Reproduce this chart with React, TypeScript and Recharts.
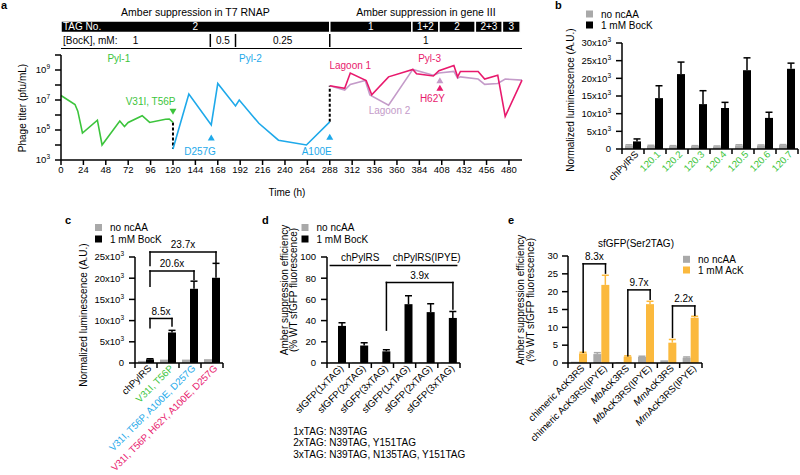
import React from 'react';
import {
  ComposedChart, BarChart, Bar, Line, Scatter, XAxis, YAxis,
  ReferenceArea, ReferenceLine,
} from 'recharts';

const FONT = '"Liberation Sans", Arial, Helvetica, sans-serif';
const COLORS: Record<string, string> = {
  wt: '#000000', pyl1: '#3cc43c', pyl2: '#1ea9ea', pyl3: '#e8196d', lag2: '#c49bc9',
};
const GREY = '#a9a9a9';
const YELLOW = '#fbb93d';
const AX = { stroke: '#000', strokeWidth: 1.5 };

// ---------------- Panel a ----------------
const timeTicks = [0, 24, 48, 72, 96, 120, 144, 168, 192, 216, 240, 264, 288, 312, 336, 360, 384, 408, 432, 456, 480];
const titerTicks = [1e3, 1e4, 1e5, 1e6, 1e7, 1e8, 1e9, 1e10];
const pyl1 = [
  { t: 0, v: 2.0e7 }, { t: 15, v: 5.0e6 }, { t: 18, v: 1.8e6 }, { t: 23, v: 6.3e4 }, { t: 39, v: 4.5e5 },
  { t: 44, v: 1.0e4 }, { t: 63, v: 4.0e5 }, { t: 68, v: 1.7e5 }, { t: 72, v: 3.2e5 }, { t: 87, v: 9.0e5 },
  { t: 95, v: 3.2e5 }, { t: 112, v: 5.2e5 }, { t: 116, v: 5.4e5 }, { t: 120, v: 3.2e5 },
];
const pyl2 = [
  { t: 120, v: 5.4e3 }, { t: 137, v: 2.5e7 }, { t: 161, v: 2.2e5 }, { t: 168, v: 1.26e8 }, { t: 187, v: 4.0e6 },
  { t: 191, v: 1.0e7 }, { t: 212, v: 2.8e5 }, { t: 233, v: 2.1e4 }, { t: 263, v: 1.0e4 }, { t: 288, v: 3.5e5 },
];
const lagoon1 = [
  { t: 288, v: 9.0e7 }, { t: 304, v: 6.0e7 }, { t: 310, v: 6.3e8 }, { t: 327, v: 2.0e8 }, { t: 333, v: 2.2e7 },
  { t: 351, v: 3.5e8 }, { t: 377, v: 1.1e9 }, { t: 381, v: 5.6e8 }, { t: 399, v: 4.0e8 }, { t: 405, v: 9.0e8 },
  { t: 421, v: 2.0e9 }, { t: 425, v: 3.5e8 }, { t: 428, v: 8.0e8 }, { t: 447, v: 8.0e8 }, { t: 454, v: 2.5e8 },
  { t: 468, v: 4.5e8 }, { t: 476, v: 8.0e5 }, { t: 494, v: 2.1e8 },
];
const lagoon2 = [
  { t: 288, v: 9.0e7 }, { t: 304, v: 4.5e7 }, { t: 310, v: 1.1e8 }, { t: 326, v: 2.0e8 }, { t: 331, v: 2.2e7 },
  { t: 351, v: 4.5e6 }, { t: 377, v: 1.1e9 }, { t: 399, v: 4.5e8 }, { t: 405, v: 6.3e8 }, { t: 421, v: 8.0e8 },
  { t: 425, v: 2.8e8 }, { t: 428, v: 3.5e8 }, { t: 447, v: 2.5e8 }, { t: 454, v: 1.1e8 }, { t: 468, v: 1.26e8 },
  { t: 476, v: 2.5e8 }, { t: 494, v: 2.1e8 },
];
const transfer120 = [{ t: 120, v: 3.2e5 }, { t: 120, v: 5.4e3 }];
const transfer288 = [{ t: 288, v: 3.5e5 }, { t: 288, v: 9.0e7 }];
const aTexts = [
  { t: 62, v: 6.3e9, s: 'pyl1', text: 'Pyl-1' },
  { t: 203, v: 6.3e9, s: 'pyl2', text: 'Pyl-2' },
  { t: 395, v: 6.3e9, s: 'pyl3', text: 'Pyl-3' },
  { t: 310, v: 2.1e9, s: 'pyl3', text: 'Lagoon 1' },
  { t: 352, v: 1.9e6, s: 'lag2', text: 'Lagoon 2' },
  { t: 96, v: 7.4e6, s: 'pyl1', text: 'V31I, T56P' },
  { t: 149, v: 3.5e3, s: 'pyl2', text: 'D257G' },
  { t: 274, v: 3.5e3, s: 'pyl2', text: 'A100E' },
  { t: 398, v: 1.3e7, s: 'pyl3', text: 'H62Y' },
];
const aMarkers = [
  { t: 120, v: 1.66e6, s: 'pyl1', dir: 'down' },
  { t: 161, v: 3.2e4, s: 'pyl2', dir: 'up' },
  { t: 288, v: 3.5e4, s: 'pyl2', dir: 'up' },
  { t: 406, v: 2.1e8, s: 'lag2', dir: 'up' },
  { t: 406, v: 6.6e7, s: 'pyl3', dir: 'up' },
];
const titleSegments = [
  { start: 0, end: 288, label: 'Amber suppression in T7 RNAP' },
  { start: 288, end: 494, label: 'Amber suppression in gene III' },
];
const tagSegments = [
  { start: 0, end: 288, label: '2' }, { start: 288, end: 376, label: '1' }, { start: 376, end: 405, label: '1+2' },
  { start: 405, end: 444, label: '2' }, { start: 444, end: 473, label: '2+3' }, { start: 473, end: 492, label: '3' },
];
const bockSegments = [
  { start: 0, end: 160, label: '1' }, { start: 160, end: 187, label: '0.5' },
  { start: 187, end: 288, label: '0.25' }, { start: 288, end: 494, label: '1' },
];
const bockBreaks = [160, 187, 288];
const headerDomain = [{ t: 0, y: 0 }, { t: 494, y: 0 }];

// ---------------- Panel b ----------------
const bCats = ['chPylRS', '120.1', '120.2', '120.3', '120.4', '120.5', '120.6', '120.7'];
const bLineage = ['wt', 'pyl1', 'pyl1', 'pyl1', 'pyl1', 'pyl1', 'pyl1', 'pyl1'];
const bNoNcaa = [1000, 900, 800, 800, 700, 1000, 1000, 1100];
const bNoNcaaErr = [200, 150, 150, 150, 150, 200, 150, 150];
const bBocK = [2150, 14400, 21200, 12700, 11600, 22300, 8800, 22700];
const bBocKErr = [700, 3500, 3400, 3800, 1600, 3500, 1600, 1600];
const bTicks = [0, 5000, 10000, 15000, 20000, 25000, 30000];

// ---------------- Panel c ----------------
const cCats = ['chPylRS', 'V31I, T56P', 'V31I, T56P, A100E, D257G', 'V31I, T56P, H62Y, A100E, D257G'];
const cLineage = ['wt', 'pyl1', 'pyl2', 'pyl3'];
const cNoNcaa = [500, 800, 800, 900];
const cNoNcaaErr = [100, 100, 100, 100];
const cBocK = [850, 7200, 17500, 20100];
const cBocKErr = [150, 500, 1800, 3400];
const cTicks = [0, 5000, 10000, 15000, 20000, 25000];
const cBrackets = [
  { from: 'chPylRS', to: 'V31I, T56P', label: '8.5x', top: 10500, left: 8300, right: 8700 },
  { from: 'chPylRS', to: 'V31I, T56P, A100E, D257G', label: '20.6x', top: 21700, left: 18100, right: 19700 },
  { from: 'chPylRS', to: 'V31I, T56P, H62Y, A100E, D257G', label: '23.7x', top: 26200, left: 23000, right: 23600 },
];

// ---------------- Panel d ----------------
const dCats = ['a1', 'a2', 'a3', 'b1', 'b2', 'b3'];
const dLabels = ['sfGFP(1xTAG)', 'sfGFP(2xTAG)', 'sfGFP(3xTAG)', 'sfGFP(1xTAG)', 'sfGFP(2xTAG)', 'sfGFP(3xTAG)'];
const dNoNcaa = [0.6, 0.5, 0.5, 0.6, 0.5, 0.5];
const dNoNcaaErr = [0.1, 0.1, 0.1, 0.1, 0.1, 0.1];
const dBocK = [35, 16.5, 11, 55.5, 48, 42.5];
const dBocKErr = [3, 2.5, 1.5, 8, 8, 6];
const dTicks = [0, 20, 40, 60, 80, 100];
const dGroups = [
  { from: 'a1', to: 'a3', label: 'chPylRS', y: 92 },
  { from: 'b1', to: 'b3', label: 'chPylRS(IPYE)', y: 92 },
];
const dBrackets = [{ from: 'a3', to: 'b3', label: '3.9x', top: 76, left: 31, right: 51 }];
const dNotes = ['1xTAG: N39TAG', '2xTAG: N39TAG, Y151TAG', '3xTAG: N39TAG, N135TAG, Y151TAG'];

// ---------------- Panel e ----------------
const eCats = ['chimeric AcK3RS', 'chimeric AcK3RS(IPYE)', 'MbAcK3RS', 'MbAcK3RS(IPYE)', 'MmAcK3RS', 'MmAcK3RS(IPYE)'];
const eNoNcaa = [0.35, 2.5, 0.25, 1.7, 0.75, 1.5];
const eNoNcaaErr = [0.1, 0.4, 0.1, 0.2, 0.1, 0.2];
const eAcK = [2.7, 21.9, 1.8, 16.5, 5.7, 12.7];
const eAcKErr = [0.3, 2.7, 0.2, 0.8, 0.9, 0.4];
const eTicks = [0, 5, 10, 15, 20, 25, 30];
const eBrackets = [
  { from: 'chimeric AcK3RS', to: 'chimeric AcK3RS(IPYE)', label: '8.3x', top: 27.8, left: 3.0, right: 25.2 },
  { from: 'MbAcK3RS', to: 'MbAcK3RS(IPYE)', label: '9.7x', top: 20.5, left: 2.0, right: 17.9 },
  { from: 'MmAcK3RS', to: 'MmAcK3RS(IPYE)', label: '2.2x', top: 16, left: 7.2, right: 13.4 },
];

// ---------------- helpers ----------------
const BAR = 8;

const centerText = (text: string, color: string, size: number) => (p: any) => {
  const vb = p.viewBox || p;
  return (
    <text x={vb.x + vb.width / 2} y={vb.y + vb.height / 2} dy="0.35em" textAnchor="middle" fontSize={size} fill={color}>
      {text}
    </text>
  );
};
const leftText = (text: string, color: string, size: number) => (p: any) => {
  const vb = p.viewBox || p;
  return (
    <text x={vb.x + 2} y={vb.y + vb.height / 2} dy="0.35em" textAnchor="start" fontSize={size} fill={color}>
      {text}
    </text>
  );
};

const LogTick = (p: any) => {
  const e = Math.round(Math.log10(p.payload.value));
  if (e % 2 === 0) return <g />;
  return (
    <text x={p.x} y={p.y} dy="0.35em" textAnchor="end" fontSize={9.5} fill="#000">
      10<tspan dy={-4} fontSize={6.5}>{e}</tspan>
    </text>
  );
};
const TimeTick = (p: any) => (
  <text x={p.x} y={p.y} dy={6} textAnchor="middle" fontSize={9.5} fill="#000">{p.payload.value}</text>
);

const makeYTick = (sci: boolean) => (p: any) => {
  const v = p.payload.value;
  if (!sci || v === 0) {
    return <text x={p.x} y={p.y} dy="0.35em" textAnchor="end" fontSize={9.5} fill="#000">{v}</text>;
  }
  return (
    <text x={p.x} y={p.y} dy="0.35em" textAnchor="end" fontSize={9.5} fill="#000">
      {`${v / 1000}x10`}<tspan dy={-4} fontSize={6.5}>3</tspan>
    </text>
  );
};

const renderLabelText = (label: string) => {
  if (/^M[bm]/.test(label)) {
    return [<tspan key="i" fontStyle="italic">{label.slice(0, 2)}</tspan>, <tspan key="r">{label.slice(2)}</tspan>];
  }
  return label;
};

const makeCatTick = (keys: string[], labels: string[], colors: string[], half: number) => (p: any) => {
  const i = keys.indexOf(p.payload.value);
  const x = p.x;
  const axisY = p.y - 5;
  const h = typeof p.payload?.offset === 'number' && p.payload.offset > 0 ? p.payload.offset : half;
  return (
    <g>
      <line x1={x - h} x2={x - h} y1={axisY} y2={axisY + 5} stroke="#000" strokeWidth={1.5} />
      {i === keys.length - 1 && <line x1={x + h} x2={x + h} y1={axisY} y2={axisY + 5} stroke="#000" strokeWidth={1.5} />}
      <text transform={`translate(${x + 6},${axisY + 6}) rotate(-45)`} textAnchor="end" fontSize={9.7} fill={colors[i]}>
        {renderLabelText(labels[i])}
      </text>
    </g>
  );
};

// bar with an upward error whisker, scaled from the bar's own pixel height
const barWithErr = (valKey: string, errKey: string, color: string) => (p: any) => {
  const { x, y, width, height } = p;
  const row = p.payload || p;
  const val = row[valKey];
  const err = row[errKey];
  const cx = x + width / 2;
  const errPx = val > 0 && height > 0 ? (height * err) / val : 0;
  return (
    <g>
      <rect x={x} y={y} width={width} height={Math.max(0, height)} fill={color} />
      {errPx > 0.5 && (
        <g>
          <line x1={cx} x2={cx} y1={y} y2={y - errPx} stroke={color} strokeWidth={1.5} />
          <line x1={cx - 3.5} x2={cx + 3.5} y1={y - errPx} y2={y - errPx} stroke={color} strokeWidth={1.5} />
        </g>
      )}
    </g>
  );
};

const segShape = (dx: number) => (p: any) => (
  <line x1={p.x1 + dx} y1={p.y1} x2={p.x2 + dx} y2={p.y2} stroke="#000" strokeWidth={1.5} strokeLinecap="square" />
);
const bracketLabel = (text: string, dx: number) => (p: any) => {
  const vb = p.viewBox || p;
  return (
    <text x={vb.x + vb.width / 2 + dx} y={vb.y - 3.5} textAnchor="middle" fontSize={10} fill="#000">{text}</text>
  );
};

function renderBrackets(list: any[], dx: number, prefix: string) {
  const out: any[] = [];
  list.forEach((b, i) => {
    out.push(
      <ReferenceLine key={`${prefix}h${i}`} ifOverflow="visible"
        segment={[{ x: b.from, y: b.top }, { x: b.to, y: b.top }]}
        shape={segShape(dx)} label={bracketLabel(b.label, dx)} />,
      <ReferenceLine key={`${prefix}l${i}`} ifOverflow="visible"
        segment={[{ x: b.from, y: b.left }, { x: b.from, y: b.top }]} shape={segShape(dx)} />,
      <ReferenceLine key={`${prefix}r${i}`} ifOverflow="visible"
        segment={[{ x: b.to, y: b.right }, { x: b.to, y: b.top }]} shape={segShape(dx)} />,
    );
  });
  return out;
}

const TextShape = (p: any) => (
  <text x={p.cx} y={p.cy} dy="0.35em" textAnchor="middle" fontSize={10} fill={COLORS[p.payload.s]}>{p.payload.text}</text>
);
const TriShape = (p: any) => {
  const { cx, cy } = p;
  const up = p.payload.dir === 'up';
  const pts = up
    ? `${cx},${cy - 3} ${cx - 3.5},${cy + 3} ${cx + 3.5},${cy + 3}`
    : `${cx},${cy + 3} ${cx - 3.5},${cy - 3} ${cx + 3.5},${cy - 3}`;
  return <polygon points={pts} fill={COLORS[p.payload.s]} />;
};

// ---------------- panels ----------------
function PanelAHeader() {
  return (
    <ComposedChart width={540} height={50} data={headerDomain} margin={{ top: 3, right: 18, bottom: 1.5, left: 61 }}>
      <XAxis type="number" dataKey="t" domain={[0, 494]} hide />
      <YAxis type="number" domain={[0, 3]} hide />
      <Line dataKey="y" stroke="none" dot={false} isAnimationActive={false} />
      {titleSegments.map((s, i) => (
        <ReferenceArea key={`ti${i}`} x1={s.start} x2={s.end} y1={2.1} y2={2.72} fill="none" stroke="none"
          ifOverflow="visible" label={centerText(s.label, '#000', 10.5)} />
      ))}
      {tagSegments.map((s, i) => (
        <ReferenceArea key={`tg${i}`} x1={s.start} x2={s.end} y1={1.05} y2={1.81} fill="#000" fillOpacity={1}
          stroke="#fff" strokeWidth={1.5} ifOverflow="visible" label={centerText(s.label, '#fff', 10)} />
      ))}
      <ReferenceArea x1={0} x2={100} y1={1.05} y2={1.81} fill="none" stroke="none" ifOverflow="visible"
        label={leftText('TAG No.', '#fff', 10)} />
      {bockSegments.map((s, i) => (
        <ReferenceArea key={`bk${i}`} x1={s.start} x2={s.end} y1={0.1} y2={0.96} fill="none" stroke="none"
          ifOverflow="visible" label={centerText(s.label, '#000', 10)} />
      ))}
      <ReferenceArea x1={0} x2={60} y1={0.1} y2={0.96} fill="none" stroke="none" ifOverflow="visible"
        label={leftText('[BocK], mM:', '#000', 10)} />
      {bockBreaks.map((b, i) => (
        <ReferenceLine key={`br${i}`} ifOverflow="visible" segment={[{ x: b, y: 0.1 }, { x: b, y: 0.96 }]}
          stroke="#000" strokeWidth={1.5} />
      ))}
      <ReferenceLine y={0} stroke="#000" strokeWidth={1.2} ifOverflow="visible" />
    </ComposedChart>
  );
}

function PanelA() {
  return (
    <ComposedChart width={540} height={200} margin={{ top: 55, right: 18, bottom: 10, left: 11 }}>
      <XAxis type="number" dataKey="t" domain={[0, 494]} ticks={timeTicks} interval={0} height={30}
        tickSize={5} tickMargin={2} axisLine={AX} tickLine={AX} tick={TimeTick} />
      <YAxis type="number" scale="log" domain={[1e3, 1e10]} ticks={titerTicks} interval={0} width={50}
        tickSize={6} tickMargin={5} axisLine={AX} tickLine={AX} tick={LogTick} />
      <Line data={transfer120} dataKey="v" stroke="#000" strokeWidth={2} strokeDasharray="3 2" dot={false} isAnimationActive={false} />
      <Line data={transfer288} dataKey="v" stroke="#000" strokeWidth={2} strokeDasharray="3 2" dot={false} isAnimationActive={false} />
      <Line data={pyl1} dataKey="v" stroke={COLORS.pyl1} strokeWidth={1.6} dot={false} isAnimationActive={false} />
      <Line data={pyl2} dataKey="v" stroke={COLORS.pyl2} strokeWidth={1.6} dot={false} isAnimationActive={false} />
      <Line data={lagoon2} dataKey="v" stroke={COLORS.lag2} strokeWidth={1.6} dot={false} isAnimationActive={false} />
      <Line data={lagoon1} dataKey="v" stroke={COLORS.pyl3} strokeWidth={1.6} dot={false} isAnimationActive={false} />
      <Scatter data={aMarkers} dataKey="v" shape={TriShape} isAnimationActive={false} />
      <Scatter data={aTexts} dataKey="v" shape={TextShape} isAnimationActive={false} />
    </ComposedChart>
  );
}

function makeRows(cats: string[], off: number[], offErr: number[], on: number[], onErr: number[]) {
  return cats.map((c, i) => ({ cat: c, off: off[i], offErr: offErr[i], on: on[i], onErr: onErr[i] }));
}

function PanelB() {
  const data = makeRows(bCats, bNoNcaa, bNoNcaaErr, bBocK, bBocKErr);
  return (
    <BarChart width={290} height={200} data={data} margin={{ top: 43, right: 2, bottom: 1, left: 52 }} barGap={0} barSize={BAR}>
      <XAxis dataKey="cat" type="category" interval={0} height={50} tickLine={false} axisLine={AX}
        tickSize={5} tickMargin={0} tick={makeCatTick(bCats, bCats, bLineage.map((l) => COLORS[l]), 11)} />
      <YAxis type="number" domain={[0, 30000]} ticks={bTicks} interval={0} width={60} tickSize={6} tickMargin={5}
        axisLine={AX} tickLine={AX} tick={makeYTick(true)} allowDataOverflow />
      <Bar dataKey="off" fill={GREY} barSize={BAR} isAnimationActive={false} shape={barWithErr('off', 'offErr', GREY)} />
      <Bar dataKey="on" fill="#000" barSize={BAR} isAnimationActive={false} shape={barWithErr('on', 'onErr', '#000')} />
    </BarChart>
  );
}

function PanelC() {
  const data = makeRows(cCats, cNoNcaa, cNoNcaaErr, cBocK, cBocKErr);
  return (
    <BarChart width={270} height={275} data={data} margin={{ top: 57, right: 47, bottom: 2, left: 75 }} barGap={0} barSize={BAR}>
      <XAxis dataKey="cat" type="category" interval={0} height={110} tickLine={false} axisLine={AX}
        tickSize={5} tickMargin={0} tick={makeCatTick(cCats, cCats, cLineage.map((l) => COLORS[l]), 11)} />
      <YAxis type="number" domain={[0, 25000]} ticks={cTicks} interval={0} width={60} tickSize={6} tickMargin={5}
        axisLine={AX} tickLine={AX} tick={makeYTick(true)} allowDataOverflow />
      <Bar dataKey="off" fill={GREY} barSize={BAR} isAnimationActive={false} shape={barWithErr('off', 'offErr', GREY)} />
      <Bar dataKey="on" fill="#000" barSize={BAR} isAnimationActive={false} shape={barWithErr('on', 'onErr', '#000')} />
      {renderBrackets(cBrackets, BAR / 2, 'c')}
    </BarChart>
  );
}

const groupShape = (ext: number) => (p: any) => (
  <line x1={p.x1 - ext} y1={p.y1} x2={p.x2 + ext} y2={p.y2} stroke="#000" strokeWidth={1.5} />
);
const groupLabel = (text: string) => (p: any) => {
  const vb = p.viewBox || p;
  return <text x={vb.x + vb.width / 2} y={vb.y - 4.5} textAnchor="middle" fontSize={10} fill="#000">{text}</text>;
};

function PanelD() {
  const data = makeRows(dCats, dNoNcaa, dNoNcaaErr, dBocK, dBocKErr);
  return (
    <BarChart width={270} height={275} data={data} margin={{ top: 57, right: 70, bottom: 2, left: 7 }} barGap={0} barSize={BAR}>
      <XAxis dataKey="cat" type="category" interval={0} height={110} tickLine={false} axisLine={AX}
        tickSize={5} tickMargin={0} tick={makeCatTick(dCats, dLabels, dCats.map(() => '#000'), 11.1)} />
      <YAxis type="number" domain={[0, 100]} ticks={dTicks} interval={0} width={60} tickSize={6} tickMargin={5}
        axisLine={AX} tickLine={AX} tick={makeYTick(false)} allowDataOverflow />
      <Bar dataKey="off" fill={GREY} barSize={BAR} isAnimationActive={false} shape={barWithErr('off', 'offErr', GREY)} />
      <Bar dataKey="on" fill="#000" barSize={BAR} isAnimationActive={false} shape={barWithErr('on', 'onErr', '#000')} />
      {dGroups.map((g, i) => (
        <ReferenceLine key={`g${i}`} ifOverflow="visible" segment={[{ x: g.from, y: g.y }, { x: g.to, y: g.y }]}
          shape={groupShape(8.5)} label={groupLabel(g.label)} />
      ))}
      {renderBrackets(dBrackets, BAR / 2, 'd')}
    </BarChart>
  );
}

function PanelE() {
  const data = makeRows(eCats, eNoNcaa, eNoNcaaErr, eAcK, eAcKErr);
  return (
    <BarChart width={295} height={275} data={data} margin={{ top: 56, right: 98, bottom: 2, left: 33 }} barGap={0} barSize={BAR}>
      <XAxis dataKey="cat" type="category" interval={0} height={110} tickLine={false} axisLine={AX}
        tickSize={5} tickMargin={0} tick={makeCatTick(eCats, eCats, eCats.map(() => '#000'), 11.1)} />
      <YAxis type="number" domain={[0, 30]} ticks={eTicks} interval={0} width={30} tickSize={6} tickMargin={4}
        axisLine={AX} tickLine={AX} tick={makeYTick(false)} allowDataOverflow />
      <Bar dataKey="off" fill={GREY} barSize={BAR} isAnimationActive={false} shape={barWithErr('off', 'offErr', GREY)} />
      <Bar dataKey="on" fill={YELLOW} barSize={BAR} isAnimationActive={false} shape={barWithErr('on', 'onErr', YELLOW)} />
      {renderBrackets(eBrackets, BAR / 2, 'e')}
    </BarChart>
  );
}

function VText({ x, y, text, size = 10 }: { x: number; y: number; text: string; size?: number }) {
  return (
    <text transform={`translate(${x},${y}) rotate(-90)`} textAnchor="middle" dominantBaseline="central" fontSize={size} fill="#000">
      {text}
    </text>
  );
}

function LegendItem({ x, y, color, text }: { x: number; y: number; color: string; text: string }) {
  return (
    <g>
      <rect x={x} y={y - 3.5} width={7} height={7} fill={color} />
      <text x={x + 15} y={y} dy="0.35em" fontSize={10} fill="#000">{text}</text>
    </g>
  );
}

export default function App() {
  return (
    <div style={{ position: 'fixed', left: 0, top: 0, width: 800, height: 475, background: '#fff', fontFamily: FONT, overflow: 'hidden' }}>
      <div style={{ position: 'absolute', left: 0, top: 0 }}><PanelAHeader /></div>
      <div style={{ position: 'absolute', left: 0, top: 0 }}><PanelA /></div>
      <div style={{ position: 'absolute', left: 510, top: 0 }}><PanelB /></div>
      <div style={{ position: 'absolute', left: 0, top: 200 }}><PanelC /></div>
      <div style={{ position: 'absolute', left: 260, top: 200 }}><PanelD /></div>
      <div style={{ position: 'absolute', left: 505, top: 200 }}><PanelE /></div>
      <svg width={800} height={475} style={{ position: 'absolute', left: 0, top: 0, pointerEvents: 'none' }} fontFamily={FONT}>
        <text x={1} y={9} fontSize={11} fontWeight="bold">a</text>
        <text x={555} y={9} fontSize={11} fontWeight="bold">b</text>
        <text x={65} y={223.5} fontSize={11} fontWeight="bold">c</text>
        <text x={262} y={223.5} fontSize={11} fontWeight="bold">d</text>
        <text x={508} y={223.5} fontSize={11} fontWeight="bold">e</text>

        <VText x={22} y={108} text="Phage titer (pfu/mL)" />
        <text x={287} y={195.5} textAnchor="middle" fontSize={10}>Time (h)</text>

        <VText x={570.5} y={100} text="Normalized luminescence (A.U.)" />
        <LegendItem x={586} y={14} color={GREY} text="no ncAA" />
        <LegendItem x={586} y={25} color="#000" text="1 mM BocK" />

        <VText x={83} y={315} text="Normalized luminescence (A.U.)" />
        <LegendItem x={95} y={227.5} color={GREY} text="no ncAA" />
        <LegendItem x={95} y={239} color="#000" text="1 mM BocK" />

        <VText x={284.5} y={290} text="Amber suppression efficiency" />
        <VText x={293} y={290} text="(% WT sfGFP fluorescence)" />
        <LegendItem x={301.5} y={227.5} color={GREY} text="no ncAA" />
        <LegendItem x={301.5} y={239} color="#000" text="1 mM BocK" />
        {dNotes.map((n, i) => (
          <text key={i} x={293.3} y={434.5 + i * 11.5} fontSize={10}>{n}</text>
        ))}

        <VText x={520.5} y={300} text="Amber suppression efficiency" />
        <VText x={530} y={300} text="(% WT sfGFP fluorescence)" />
        <text x={636} y={246.5} textAnchor="middle" fontSize={10}>sfGFP(Ser2TAG)</text>
        <LegendItem x={683} y={259.3} color={GREY} text="no ncAA" />
        <LegendItem x={683} y={270} color={YELLOW} text="1 mM AcK" />
      </svg>
    </div>
  );
}
